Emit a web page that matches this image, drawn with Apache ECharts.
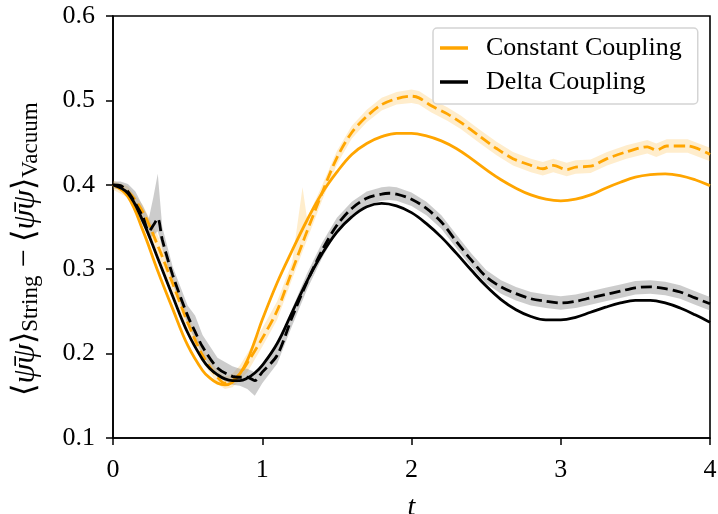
<!DOCTYPE html>
<html>
<head>
<meta charset="utf-8">
<script src="https://cdn.jsdelivr.net/npm/echarts@6/dist/echarts.min.js"></script>
<style>
  html, body { margin: 0; padding: 0; background: #fff; }
  #chart { width: 718px; height: 514px; }
</style>
</head>
<body>
<div id="chart"></div>
<script>
// Time grid for the smooth curves (denser around the first minimum)
const tSmooth = [0, 0.1, 0.2, 0.3, 0.4, 0.5, 0.6, 0.65, 0.7, 0.75, 0.8, 0.85, 0.9, 0.95, 1.0,
  1.1, 1.2, 1.3, 1.4, 1.5, 1.6, 1.7, 1.8, 1.9, 2.0,
  2.1, 2.2, 2.3, 2.4, 2.5, 2.6, 2.7, 2.8, 2.9, 3.0,
  3.1, 3.2, 3.3, 3.4, 3.5, 3.6, 3.7, 3.8, 3.9, 4.0];

// Constant coupling, solid curve
const constantCoupling = [0.400, 0.386, 0.346, 0.298, 0.253, 0.210, 0.180, 0.171, 0.165, 0.163, 0.166, 0.176, 0.192, 0.215, 0.240,
  0.284, 0.322, 0.358, 0.390, 0.415, 0.436, 0.449, 0.457, 0.461, 0.461,
  0.458, 0.452, 0.443, 0.431, 0.418, 0.406, 0.396, 0.388, 0.383, 0.381,
  0.383, 0.388, 0.396, 0.403, 0.409, 0.412, 0.413, 0.411, 0.406, 0.399];

// Delta coupling, solid curve
const deltaCoupling = [0.400, 0.390, 0.357, 0.313, 0.268, 0.225, 0.193, 0.182, 0.175, 0.170, 0.168, 0.168, 0.171, 0.177, 0.186,
  0.212, 0.249, 0.286, 0.318, 0.344, 0.362, 0.374, 0.378, 0.375, 0.367,
  0.354, 0.338, 0.319, 0.299, 0.280, 0.264, 0.252, 0.244, 0.240, 0.240,
  0.243, 0.249, 0.255, 0.260, 0.263, 0.263, 0.260, 0.254, 0.246, 0.237];

// Constant coupling, sampled estimate with its uncertainty band
const tConstSampled = [0, 0.1, 0.2, 0.3, 0.4, 0.5, 0.6, 0.7, 0.75, 0.8, 0.85, 0.9, 1.0, 1.1, 1.2, 1.27, 1.3,
  1.4, 1.5, 1.6, 1.7, 1.8, 1.9, 2.0, 2.05, 2.13, 2.24, 2.33, 2.46, 2.57, 2.68, 2.8, 2.88,
  2.95, 3.04, 3.1, 3.2, 3.31, 3.44, 3.58, 3.64, 3.71, 3.85, 4.0];
const constSampled = [0.400, 0.392, 0.368, 0.328, 0.283, 0.237, 0.198, 0.172, 0.165, 0.168, 0.176, 0.189, 0.218, 0.251, 0.298, 0.331, 0.345,
  0.390, 0.432, 0.462, 0.481, 0.495, 0.502, 0.505, 0.503, 0.494, 0.484, 0.474, 0.457, 0.443, 0.431, 0.423, 0.419,
  0.423, 0.418, 0.421, 0.422, 0.431, 0.439, 0.445, 0.441, 0.446, 0.446, 0.436];
const constLow = [0.394, 0.385, 0.360, 0.318, 0.273, 0.228, 0.190, 0.164, 0.158, 0.160, 0.168, 0.178, 0.208, 0.240, 0.288, 0.321, 0.335,
  0.381, 0.424, 0.455, 0.474, 0.488, 0.495, 0.497, 0.495, 0.486, 0.476, 0.466, 0.449, 0.435, 0.423, 0.415, 0.411,
  0.415, 0.410, 0.413, 0.414, 0.423, 0.431, 0.437, 0.433, 0.438, 0.438, 0.428];
const constHigh = [0.405, 0.398, 0.376, 0.340, 0.293, 0.247, 0.206, 0.180, 0.173, 0.176, 0.186, 0.200, 0.230, 0.262, 0.308, 0.397, 0.360,
  0.399, 0.440, 0.470, 0.489, 0.503, 0.510, 0.513, 0.511, 0.502, 0.492, 0.482, 0.465, 0.451, 0.439, 0.431, 0.427,
  0.431, 0.426, 0.429, 0.430, 0.439, 0.447, 0.453, 0.449, 0.454, 0.454, 0.444];

// Delta coupling, sampled estimate with its uncertainty band
const tDeltaSampled = [0, 0.05, 0.1, 0.15, 0.2, 0.24, 0.27, 0.3, 0.33, 0.4, 0.5, 0.55, 0.6, 0.7, 0.8, 0.85, 0.9, 0.95,
  1.0, 1.1, 1.2, 1.3, 1.4, 1.5, 1.6, 1.7, 1.8, 1.85, 1.9, 2.0, 2.1, 2.2, 2.3, 2.4, 2.5,
  2.6, 2.7, 2.8, 2.9, 3.0, 3.1, 3.2, 3.3, 3.4, 3.5, 3.6, 3.7, 3.8, 3.9, 4.0];
const deltaSampled = [0.400, 0.399, 0.392, 0.378, 0.362, 0.345, 0.352, 0.360, 0.335, 0.293, 0.245, 0.226, 0.208, 0.183, 0.173, 0.172, 0.172, 0.168,
  0.178, 0.198, 0.243, 0.285, 0.322, 0.352, 0.372, 0.384, 0.389, 0.390, 0.389, 0.383, 0.372, 0.356, 0.333, 0.311, 0.291,
  0.279, 0.271, 0.265, 0.262, 0.260, 0.262, 0.266, 0.270, 0.274, 0.278, 0.279, 0.277, 0.273, 0.266, 0.259];
const deltaLow = [0.396, 0.394, 0.386, 0.370, 0.352, 0.336, 0.340, 0.345, 0.325, 0.283, 0.235, 0.216, 0.198, 0.172, 0.163, 0.162, 0.158, 0.150,
  0.165, 0.188, 0.233, 0.276, 0.313, 0.344, 0.364, 0.376, 0.381, 0.382, 0.381, 0.375, 0.364, 0.348, 0.325, 0.303, 0.283,
  0.271, 0.263, 0.257, 0.254, 0.252, 0.254, 0.258, 0.262, 0.266, 0.270, 0.271, 0.269, 0.265, 0.258, 0.251];
const deltaHigh = [0.404, 0.404, 0.401, 0.392, 0.375, 0.360, 0.385, 0.413, 0.350, 0.303, 0.257, 0.245, 0.222, 0.195, 0.185, 0.182, 0.182, 0.178,
  0.188, 0.209, 0.253, 0.295, 0.331, 0.361, 0.380, 0.392, 0.397, 0.398, 0.397, 0.391, 0.380, 0.364, 0.341, 0.319, 0.299,
  0.287, 0.279, 0.273, 0.270, 0.268, 0.270, 0.274, 0.278, 0.282, 0.286, 0.287, 0.285, 0.281, 0.274, 0.267];

const xTicks = [0, 1, 2, 3, 4];
const yTicks = [0.1, 0.2, 0.3, 0.4, 0.5, 0.6];

const ORANGE = '#FFA500';
const FONT = 'Liberation Serif';

function pairs(ts, vs) { return ts.map((t, i) => [t, vs[i]]); }

// Filled band between low and high, drawn through the cartesian coordinate system
function bandSeries(ts, lo, hi, fill) {
  return {
    type: 'custom',
    coordinateSystem: 'cartesian2d',
    silent: true,
    clip: true,
    z: 1,
    data: [[ts[0], lo[0]]],
    encode: { x: 0, y: 1 },
    renderItem: function (params, api) {
      const pts = [];
      for (let i = 0; i < ts.length; i++) pts.push(api.coord([ts[i], hi[i]]));
      for (let i = ts.length - 1; i >= 0; i--) pts.push(api.coord([ts[i], lo[i]]));
      return { type: 'polygon', shape: { points: pts }, style: { fill: fill } };
    }
  };
}

function lineSeries(name, data, color, dashed, smooth) {
  return {
    name: name,
    type: 'line',
    data: data,
    showSymbol: false,
    symbol: 'none',
    smooth: smooth,
    z: 3,
    lineStyle: { color: color, width: 2.8, type: dashed ? [11, 5] : 'solid' },
    itemStyle: { color: color },
    emphasis: { disabled: true }
  };
}

const chart = echarts.init(document.getElementById('chart'), null, { renderer: 'canvas' });

chart.setOption({
  animation: false,
  backgroundColor: '#fff',
  grid: {
    left: 113, right: 8, top: 16, bottom: 76,
    outerBoundsMode: 'none',
    containLabel: false,
    show: true, borderColor: '#000', borderWidth: 1.6, backgroundColor: 'transparent'
  },
  legend: {
    orient: 'vertical',
    left: 433, top: 28,
    padding: [7, 16, 9, 7],
    itemGap: 8,
    itemWidth: 28, itemHeight: 3.5,
    backgroundColor: 'rgba(255,255,255,0.8)',
    borderColor: '#d4d4d4', borderWidth: 1.5, borderRadius: 4,
    selectedMode: false,
    textStyle: { fontFamily: FONT, fontSize: 26, color: '#000', lineHeight: 25, padding: [0, 0, 0, 13] },
    data: [
      { name: 'Constant Coupling', icon: 'rect', itemStyle: { color: ORANGE } },
      { name: 'Delta Coupling', icon: 'rect', itemStyle: { color: '#000' } }
    ]
  },
  xAxis: {
    type: 'value',
    min: 0, max: 4, interval: 1,
    name: 't',
    nameLocation: 'middle',
    nameGap: 56,
    nameMoveOverlap: false,
    nameTextStyle: { fontFamily: FONT, fontSize: 28, fontStyle: 'italic', color: '#000', lineHeight: 28 },
    axisLine: { lineStyle: { color: '#000', width: 1.6 } },
    axisTick: { show: true, inside: false, length: 7, lineStyle: { color: '#000', width: 1.5 },
      customValues: xTicks },
    axisLabel: { fontFamily: FONT, fontSize: 26, color: '#000', margin: 20, lineHeight: 24,
      customValues: xTicks, formatter: v => String(v) },
    splitLine: { show: false }
  },
  yAxis: {
    type: 'value',
    min: 0.1, max: 0.6, interval: 0.1,
    name: '{r|⟨}{m|ψ̄ψ}{r|⟩}{s|String}{r| − ⟨}{m|ψ̄ψ}{r|⟩}{s|Vacuum}',
    nameLocation: 'middle',
    nameRotate: 90,
    nameGap: 71,
    nameMoveOverlap: false,
    nameTextStyle: {
      color: '#000',
      padding: [0, 44, 0, 0],
      rich: {
        r: { fontFamily: FONT, fontSize: 32, color: '#000', verticalAlign: 'bottom', lineHeight: 34 },
        m: { fontFamily: FONT, fontSize: 32, fontStyle: 'italic', color: '#000', verticalAlign: 'bottom', lineHeight: 34 },
        s: { fontFamily: FONT, fontSize: 23, color: '#000', verticalAlign: 'bottom', lineHeight: 27 }
      }
    },
    axisLine: { show: true, lineStyle: { color: '#000', width: 1.6 } },
    axisTick: { show: true, inside: false, length: 7, lineStyle: { color: '#000', width: 1.5 },
      customValues: yTicks },
    axisLabel: { fontFamily: FONT, fontSize: 26, color: '#000', margin: 18, padding: [6, 0, 0, 0],
      customValues: yTicks, formatter: v => v.toFixed(1) },
    splitLine: { show: false }
  },
  series: [
    bandSeries(tConstSampled, constLow, constHigh, 'rgba(255,165,0,0.2)'),
    bandSeries(tDeltaSampled, deltaLow, deltaHigh, 'rgba(128,128,128,0.4)'),
    lineSeries('Constant Coupling', pairs(tSmooth, constantCoupling), ORANGE, false, 0.4),
    lineSeries('Constant Coupling (sampled)', pairs(tConstSampled, constSampled), ORANGE, true, 0.3),
    lineSeries('Delta Coupling', pairs(tSmooth, deltaCoupling), '#000', false, 0.4),
    lineSeries('Delta Coupling (sampled)', pairs(tDeltaSampled, deltaSampled), '#000', true, 0.3)
  ]
});
</script>
</body>
</html>
